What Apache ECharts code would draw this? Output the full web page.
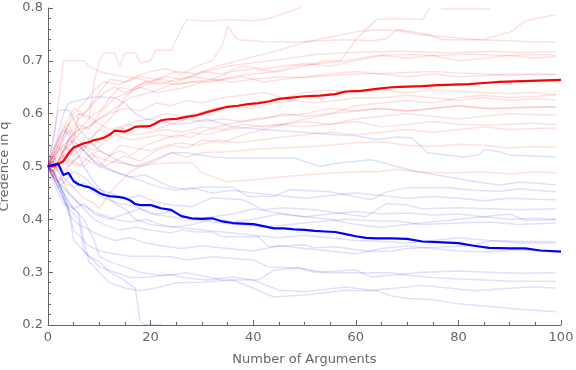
<!DOCTYPE html>
<html><head><meta charset="utf-8">
<script src="https://cdn.jsdelivr.net/npm/echarts@6/dist/echarts.min.js"></script>
<style>html,body{margin:0;padding:0;background:#fff}#c{width:576px;height:370px}</style>
</head><body><div id="c"></div>
<script>
// Axis ticks / labels
const xTicks = [0, 20, 40, 60, 80, 100];
const yTicks = [0.2, 0.3, 0.4, 0.5, 0.6, 0.7, 0.8];
const xTitle = "Number of Arguments";
const yTitle = "Credence in q";

// Mean curves
const redMean = [[0,.5],[1,.5],[2,.505],[3,.51],[4,.525],[5,.536],[6,.54],[7,.544],[8,.546],[9,.55],[10,.552],[11,.555],[12,.56],[13,.568],[14,.567],[15,.566],[16,.57],[17,.575],[18,.576],[19,.576],[20,.577],[21,.582],[22,.587],[23,.589],[25,.59],[27,.594],[29,.597],[31,.603],[33,.608],[35,.613],[37,.615],[39,.618],[41,.62],[43,.623],[45,.628],[47,.63],[50,.633],[53,.634],[56,.637],[58,.642],[61,.643],[64,.647],[67,.65],[70,.651],[73,.652],[76,.654],[79,.655],[82,.656],[85,.658],[88,.66],[91,.661],[94,.662],[97,.663],[100,.664]];
const blueMean = [[0,.5],[1,.503],[2,.505],[3,.484],[4,.488],[5,.472],[6,.466],[7,.463],[8,.461],[9,.456],[10,.45],[11,.446],[12,.444],[13,.443],[14,.442],[15,.44],[16,.436],[17,.429],[18,.427],[19,.427],[20,.427],[21,.424],[22,.421],[24,.418],[26,.406],[28,.402],[30,.401],[32,.402],[34,.396],[36,.393],[38,.392],[40,.391],[42,.387],[44,.383],[46,.383],[48,.381],[50,.380],[52,.378],[54,.377],[56,.376],[58,.372],[60,.368],[62,.365],[64,.364],[67,.364],[70,.363],[73,.358],[76,.357],[80,.355],[83,.35],[86,.346],[90,.345],[93,.345],[96,.341],[100,.339]];

// Individual runs, faint red (credence rising)
const redRuns = [
[[0,.5],[1,.55],[2,.62],[3,.70],[5,.70],[7,.70],[8,.69],[10,.68],[12,.675],[15,.67],[18,.665],[20,.66],[23,.67],[26,.665],[30,.68],[34,.675],[38,.69],[42,.685],[46,.69],[50,.695],[55,.69],[60,.70],[65,.71],[70,.705],[75,.71],[80,.70],[85,.705],[90,.71],[95,.705],[99,.708]],
[[0,.5],[1,.52],[2,.53],[4,.58],[6,.60],[8,.59],[9,.66],[10,.70],[11,.715],[13,.715],[14,.69],[15,.715],[17,.715],[18,.696],[20,.70],[21,.72],[24,.72],[26,.76],[27,.778],[31,.775],[35,.778],[40,.776],[43,.78],[46,.79],[49,.80],[52,.82],[60,.84],[80,.86],[99,.87]],
[[0,.5],[1,.48],[2,.51],[3,.53],[5,.55],[7,.57],[10,.59],[13,.61],[16,.63],[20,.64],[24,.655],[28,.66],[32,.66],[36,.67],[40,.675],[45,.68],[50,.69],[54,.70],[57,.70],[60,.74],[64,.778],[67,.78],[73,.778],[75,.81],[77,.798],[86,.798],[88,.82],[99,.84]],
[[0,.5],[1,.53],[2,.55],[3,.58],[4,.56],[6,.59],[8,.61],[10,.64],[12,.665],[15,.66],[18,.67],[21,.665],[25,.68],[29,.675],[33,.69],[37,.70],[41,.71],[45,.72],[50,.735],[55,.745],[60,.755],[64,.759],[70,.757],[74,.75],[77,.74],[85,.74],[88,.75],[90,.754],[93,.775],[96,.782],[99,.787]],
[[0,.5],[1,.51],[2,.54],[3,.56],[5,.6],[7,.62],[9,.645],[11,.66],[14,.655],[17,.67],[20,.68],[23,.685],[26,.675],[29,.69],[32,.70],[34,.73],[35,.765],[37,.74],[42,.736],[48,.735],[53,.738],[58,.74],[63,.738],[66,.742],[68,.759],[72,.75],[78,.745],[84,.74],[90,.738],[95,.735],[99,.736]],
[[0,.5],[1,.52],[2,.50],[3,.53],[4,.55],[6,.58],[8,.57],[10,.60],[12,.63],[14,.65],[16,.645],[19,.66],[22,.655],[25,.665],[28,.67],[31,.68],[35,.69],[39,.695],[43,.70],[47,.705],[52,.712],[57,.715],[64,.717],[70,.718],[78,.715],[86,.718],[92,.716],[99,.717]],
[[0,.5],[1,.49],[2,.51],[3,.52],[5,.54],[7,.53],[9,.56],[11,.58],[13,.60],[15,.63],[17,.65],[19,.66],[22,.665],[25,.66],[28,.67],[32,.665],[36,.68],[40,.685],[44,.68],[48,.69],[53,.695],[58,.70],[64,.71],[70,.712],[76,.71],[82,.713],[88,.71],[94,.712],[99,.711]],
[[0,.5],[1,.51],[2,.53],[3,.54],[5,.56],[7,.58],[9,.60],[11,.61],[13,.63],[16,.64],[19,.655],[22,.66],[25,.655],[28,.66],[32,.665],[36,.66],[40,.665],[45,.67],[50,.668],[55,.672],[60,.675],[65,.676],[70,.678],[75,.68],[80,.677],[85,.675],[90,.672],[95,.676],[99,.674]],
[[0,.5],[1,.52],[2,.54],[3,.52],[4,.55],[6,.57],[8,.575],[10,.59],[12,.60],[15,.61],[18,.605],[21,.62],[24,.615],[27,.625],[30,.62],[34,.63],[38,.635],[42,.64],[46,.63],[50,.64],[55,.645],[60,.64],[65,.645],[70,.64],[75,.645],[80,.642],[85,.64],[90,.638],[95,.64],[99,.636]],
[[0,.5],[1,.48],[2,.50],[3,.51],[5,.53],[7,.55],[9,.54],[11,.56],[14,.57],[17,.585],[20,.59],[23,.60],[26,.595],[29,.60],[32,.61],[36,.615],[40,.61],[44,.62],[48,.625],[52,.62],[56,.625],[60,.63],[65,.63],[70,.635],[75,.63],[80,.625],[85,.63],[90,.625],[95,.628],[99,.626]],
[[0,.5],[1,.51],[2,.49],[3,.52],[4,.50],[6,.52],[8,.55],[10,.57],[12,.56],[15,.58],[18,.575],[21,.57],[24,.58],[27,.59],[30,.585],[34,.59],[38,.585],[42,.59],[46,.60],[50,.595],[55,.60],[60,.605],[64,.61],[70,.605],[75,.61],[80,.615],[86,.61],[92,.612],[99,.613]],
[[0,.5],[1,.49],[2,.51],[3,.53],[5,.55],[6,.60],[8,.595],[10,.58],[12,.57],[14,.575],[17,.56],[20,.565],[23,.57],[26,.565],[30,.575],[34,.57],[38,.58],[42,.575],[46,.58],[50,.585],[55,.58],[60,.59],[65,.595],[70,.60],[75,.595],[80,.59],[85,.595],[90,.60],[95,.598],[99,.598]],
[[0,.5],[1,.51],[2,.52],[3,.54],[5,.52],[7,.54],[9,.53],[11,.545],[13,.56],[16,.55],[19,.555],[22,.56],[25,.555],[28,.565],[31,.56],[35,.57],[40,.575],[45,.58],[50,.575],[55,.58],[60,.585],[65,.575],[70,.58],[75,.585],[80,.58],[85,.578],[90,.58],[95,.582],[99,.579]],
[[0,.5],[1,.48],[2,.47],[3,.49],[4,.51],[6,.50],[8,.52],[10,.53],[12,.52],[14,.54],[17,.535],[20,.53],[23,.54],[26,.545],[29,.54],[33,.55],[37,.545],[41,.55],[45,.555],[50,.56],[55,.565],[60,.56],[65,.565],[70,.57],[75,.565],[80,.57],[85,.575],[90,.57],[95,.572],[99,.573]],
[[0,.5],[1,.49],[2,.48],[3,.47],[5,.46],[7,.44],[9,.43],[10,.42],[12,.45],[14,.47],[16,.49],[18,.50],[21,.51],[24,.526],[27,.518],[30,.526],[35,.528],[40,.532],[45,.535],[50,.537],[55,.54],[60,.545],[65,.547],[70,.54],[75,.538],[80,.542],[85,.54],[90,.535],[95,.538],[99,.537]],
[[0,.5],[1,.51],[2,.50],[3,.52],[5,.51],[7,.50],[9,.52],[12,.51],[15,.505],[18,.50],[21,.505],[24,.507],[28,.507],[30,.488],[35,.471],[40,.475],[45,.48],[50,.484],[55,.487],[60,.49],[64,.49],[68,.495],[72,.49],[78,.487],[84,.49],[90,.486],[95,.49],[99,.488]],
[[0,.5],[1,.52],[2,.54],[3,.56],[4,.58],[5,.56],[7,.54],[9,.52],[11,.50],[13,.51],[15,.52],[18,.51],[21,.53],[24,.54],[27,.535],[30,.55],[34,.545],[38,.56],[42,.57],[46,.58],[50,.59],[55,.60],[60,.615],[65,.62],[70,.625],[75,.62],[80,.63],[85,.635],[90,.63],[95,.633],[99,.636]],
[[0,.5],[1,.49],[2,.47],[3,.48],[4,.50],[6,.52],[8,.51],[10,.50],[12,.52],[14,.53],[16,.52],[19,.54],[22,.55],[25,.56],[28,.555],[31,.57],[35,.58],[40,.59],[45,.595],[50,.60],[55,.61],[60,.605],[65,.61],[70,.605],[75,.61],[80,.615],[85,.61],[90,.61],[95,.612],[99,.613]],
[[0,.5],[1,.53],[2,.55],[3,.57],[4,.59],[5,.61],[7,.60],[9,.62],[11,.64],[13,.65],[15,.64],[18,.65],[21,.64],[24,.645],[27,.65],[30,.66],[34,.665],[38,.67],[42,.66],[46,.665],[50,.67],[55,.675],[60,.68],[65,.675],[70,.67],[75,.675],[80,.67],[85,.672],[90,.675],[95,.673],[99,.674]]
];

// Individual runs, faint blue (credence falling)
const blueRuns = [
[[0,.5],[1,.53],[2,.56],[3,.6],[4,.62],[6,.625],[8,.63],[10,.632],[13,.63],[15,.62],[17,.60],[19,.59],[22,.585],[25,.58],[28,.583],[31,.59],[36,.575],[42,.57],[50,.565],[56,.56],[60,.558],[64,.551],[68,.556],[71,.554],[74,.526],[81,.518],[84,.522],[85,.532],[88,.528],[90,.522],[99,.518]],
[[0,.5],[1,.55],[2,.607],[4,.607],[5,.59],[6,.57],[8,.55],[10,.53],[12,.52],[14,.51],[17,.50],[20,.51],[24,.526],[27,.526],[32,.518],[36,.516],[48,.516],[53,.50],[57,.507],[63,.513],[68,.50],[72,.49],[78,.48],[84,.47],[88,.465],[92,.47],[96,.468],[99,.465]],
[[0,.5],[1,.49],[2,.51],[3,.53],[4,.55],[6,.54],[8,.52],[10,.50],[13,.49],[16,.48],[19,.484],[22,.47],[24,.461],[27,.456],[30,.461],[36,.461],[39,.443],[44,.443],[47,.456],[55,.452],[63,.437],[66,.452],[70,.46],[78,.46],[83,.455],[88,.453],[92,.458],[95,.455],[99,.452]],
[[0,.5],[1,.48],[2,.46],[3,.47],[5,.49],[7,.48],[9,.46],[12,.45],[15,.44],[18,.445],[21,.433],[24,.427],[28,.424],[32,.441],[38,.437],[42,.418],[46,.422],[52,.418],[62,.405],[66,.43],[70,.427],[73,.42],[80,.422],[86,.42],[92,.418],[99,.42]],
[[0,.5],[1,.47],[2,.45],[3,.43],[5,.42],[7,.43],[9,.41],[12,.40],[15,.41],[18,.42],[21,.41],[24,.415],[28,.40],[32,.405],[36,.41],[40,.42],[45,.412],[50,.405],[55,.41],[60,.415],[65,.41],[70,.412],[75,.408],[80,.41],[85,.405],[90,.41],[93,.398],[99,.399]],
[[0,.5],[1,.52],[2,.50],[3,.48],[5,.46],[7,.47],[9,.45],[11,.44],[14,.43],[17,.425],[20,.41],[24,.405],[28,.40],[32,.395],[37,.39],[42,.385],[47,.39],[52,.395],[58,.40],[64,.397],[68,.397],[73,.39],[80,.393],[86,.395],[92,.39],[99,.393]],
[[0,.5],[1,.48],[2,.47],[3,.46],[5,.44],[7,.42],[9,.40],[11,.39],[14,.38],[17,.385],[20,.38],[24,.374],[26,.38],[29,.376],[32,.376],[34,.367],[41,.367],[43,.348],[50,.352],[52,.346],[56,.348],[63,.339],[67,.34],[70,.345],[75,.347],[82,.35],[87,.36],[93,.358],[99,.358]],
[[0,.5],[1,.51],[2,.49],[3,.47],[4,.45],[6,.43],[8,.42],[10,.41],[13,.40],[16,.395],[19,.40],[22,.39],[25,.385],[30,.38],[35,.375],[40,.37],[45,.365],[50,.37],[55,.365],[60,.36],[65,.358],[70,.355],[75,.36],[80,.365],[86,.36],[92,.355],[99,.355]],
[[0,.5],[1,.48],[2,.46],[3,.44],[4,.41],[6,.39],[8,.38],[10,.37],[13,.36],[16,.365],[19,.355],[22,.35],[26,.345],[30,.35],[35,.345],[40,.34],[45,.35],[50,.345],[55,.34],[60,.335],[65,.345],[70,.35],[75,.345],[80,.34],[86,.338],[92,.342],[99,.339]],
[[0,.5],[1,.49],[2,.47],[3,.45],[4,.42],[5,.38],[6,.37],[8,.35],[10,.34],[13,.335],[16,.33],[20,.33],[24,.329],[27,.323],[32,.329],[40,.323],[43,.31],[49,.308],[52,.30],[60,.304],[63,.291],[68,.295],[73,.3],[80,.302],[86,.30],[92,.298],[99,.299]],
[[0,.5],[1,.49],[2,.47],[3,.45],[5,.42],[7,.40],[9,.36],[10,.33],[12,.32],[15,.31],[18,.30],[21,.295],[24,.295],[27,.299],[34,.285],[41,.285],[44,.304],[49,.308],[54,.299],[60,.299],[67,.299],[70,.294],[75,.29],[80,.287],[85,.285],[90,.283],[99,.283]],
[[0,.5],[1,.48],[2,.46],[3,.44],[4,.42],[5,.36],[6,.35],[8,.33],[10,.31],[13,.30],[16,.29],[19,.29],[24,.295],[27,.289],[31,.285],[36,.291],[40,.285],[45,.266],[50,.263],[58,.272],[63,.266],[68,.27],[73,.275],[78,.27],[83,.265],[88,.268],[94,.272],[99,.27]],
[[0,.5],[1,.49],[2,.47],[3,.45],[4,.43],[6,.41],[7,.36],[8,.32],[10,.30],[12,.28],[15,.27],[18,.265],[21,.27],[25,.28],[30,.281],[36,.285],[40,.27],[44,.253],[50,.257],[58,.266],[64,.265],[67,.255],[70,.25],[75,.248],[80,.24],[86,.235],[92,.23],[99,.225]],
[[0,.5],[1,.49],[2,.47],[3,.44],[4,.42],[6,.40],[7,.34],[8,.33],[10,.32],[12,.30],[14,.29],[17,.27],[18,.205],[19,.201],[22,.201],[23,.19],[30,.17],[50,.16],[99,.15]],
[[0,.5],[1,.51],[2,.53],[3,.55],[4,.57],[5,.55],[7,.53],[9,.51],[11,.50],[13,.49],[16,.48],[19,.47],[22,.46],[25,.455],[28,.46],[32,.45],[36,.455],[40,.45],[45,.445],[50,.44],[55,.445],[60,.45],[65,.445],[70,.44],[75,.443],[80,.44],[85,.435],[90,.44],[95,.438],[99,.437]],
[[0,.5],[1,.52],[2,.55],[3,.57],[4,.56],[5,.54],[7,.50],[9,.47],[11,.45],[13,.43],[15,.42],[17,.40],[20,.39],[24,.385],[28,.39],[32,.40],[36,.395],[40,.40],[45,.41],[50,.405],[55,.40],[60,.39],[65,.385],[70,.39],[75,.395],[80,.40],[85,.405],[90,.40],[95,.402],[99,.40]]
];

const FONT = "DejaVu Sans";
const GRAY = "#666";
const series = [];
blueRuns.forEach(r => series.push({type:'line', data:r, showSymbol:false, silent:true, clip:true, z:2,
  lineStyle:{color:'rgba(0,0,255,0.12)', width:1.5}}));
redRuns.forEach(r => series.push({type:'line', data:r, showSymbol:false, silent:true, clip:true, z:2,
  lineStyle:{color:'rgba(255,0,0,0.12)', width:1.5}}));
series.push({type:'line', data:redMean, showSymbol:false, clip:true, z:5, lineStyle:{color:'#ff0000', width:2.2}});
series.push({type:'line', data:blueMean, showSymbol:false, clip:true, z:5, lineStyle:{color:'#0000ff', width:2.2}});

const chart = echarts.init(document.getElementById('c'), null, {renderer:'canvas'});
chart.setOption({
  animation:false,
  backgroundColor:'#fff',
  grid:{left:48, right:15, top:8, bottom:45, containLabel:false, outerBoundsMode:'none'},
  xAxis:{type:'value', min:xTicks[0], max:xTicks[xTicks.length-1], interval:20,
    name:xTitle, nameLocation:'middle', nameGap:28,
    nameTextStyle:{fontFamily:FONT, fontSize:13, color:GRAY},
    axisLine:{show:true, lineStyle:{color:GRAY, width:1}},
    axisTick:{show:true, inside:true, length:5, lineStyle:{color:GRAY}},
    minorTick:{show:true, splitNumber:4, length:3, lineStyle:{color:GRAY}},
    splitLine:{show:false},
    axisLabel:{fontFamily:FONT, fontSize:13, color:GRAY, margin:6}},
  yAxis:{type:'value', min:yTicks[0], max:yTicks[yTicks.length-1], interval:0.1,
    name:yTitle, nameLocation:'middle', nameGap:34,
    nameTextStyle:{fontFamily:FONT, fontSize:13, color:GRAY},
    axisLine:{show:true, lineStyle:{color:GRAY, width:1}},
    axisTick:{show:true, inside:true, length:5, lineStyle:{color:GRAY}},
    minorTick:{show:true, splitNumber:5, length:3, lineStyle:{color:GRAY}},
    splitLine:{show:false},
    axisLabel:{fontFamily:FONT, fontSize:13, color:GRAY, margin:5, formatter:v=>v.toFixed(1)}},
  series:series
});
</script></body></html>
